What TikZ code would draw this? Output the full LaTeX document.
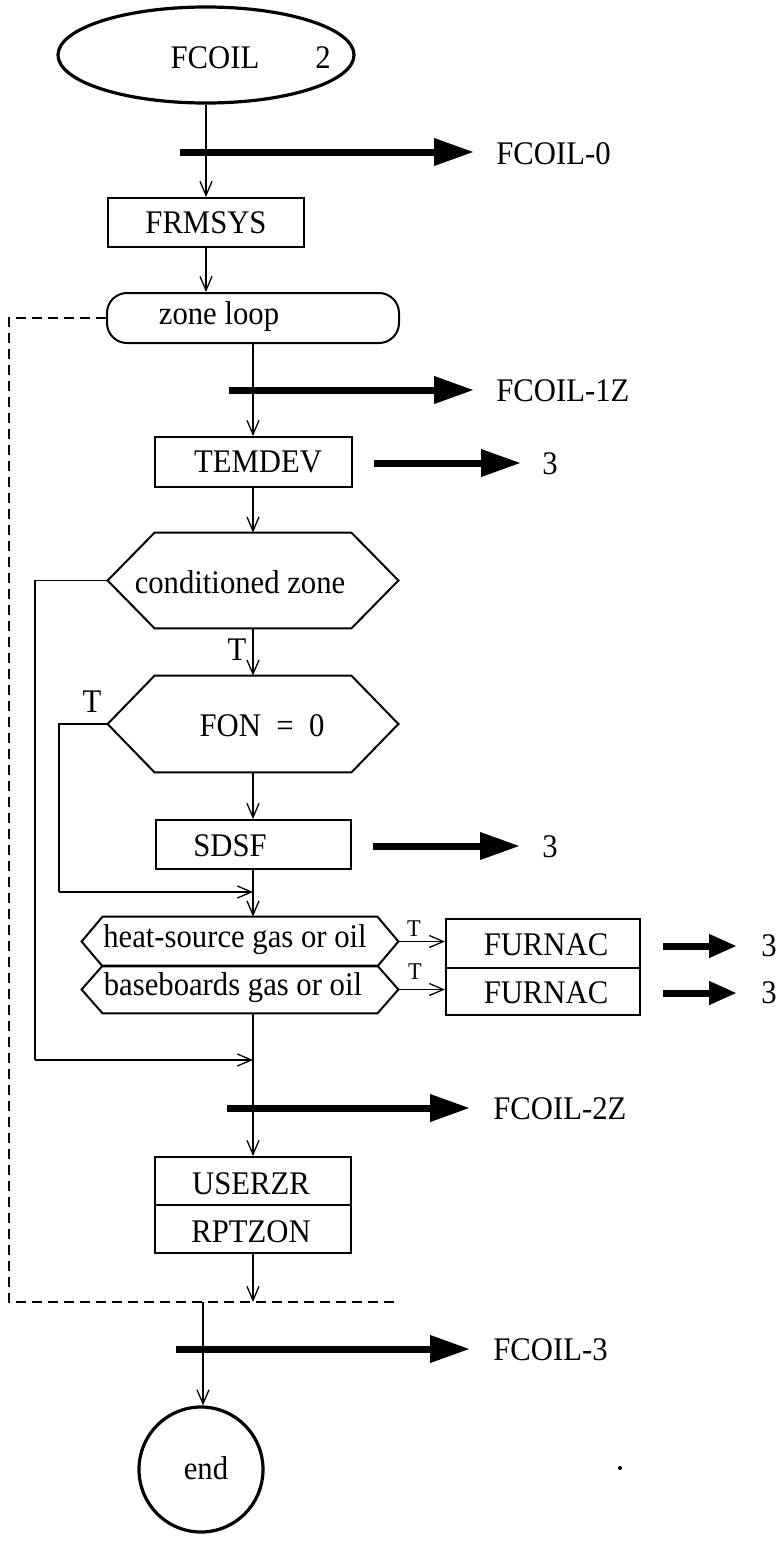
\documentclass[tikz,border=0pt]{standalone}
\usepackage{fontspec}
\setmainfont{Liberation Serif}[FakeStretch=0.93]
\usetikzlibrary{arrows.meta,shapes.geometric,calc}
\newcommand\drawhex[2]{\draw[line width=1pt] (#1.west) -- ([xshift=#2]#1.north west) -- ([xshift=-#2]#1.north east) -- (#1.east) -- ([xshift=-#2]#1.south east) -- ([xshift=#2]#1.south west) -- cycle;}
\begin{document}
\begin{tikzpicture}[x=0.5pt,y=-0.5pt,
  every node/.style={font=\fontsize{16.5}{19}\selectfont, inner sep=0pt},
  box/.style={draw, line width=1pt, inner sep=0pt},
  hexnode/.style={inner sep=0pt},
  arr/.style={line width=0.65pt, -{Straight Barb[length=7pt,width=6pt]}},
  big/.style={line width=3.5pt, -{Triangle[length=20pt,width=13pt]}},
  bigsmall/.style={line width=3.5pt, -{Triangle[length=14pt,width=11pt]}},
  loopline/.style={line width=0.8pt, dash pattern=on 5pt off 3pt},
  lbl/.style={anchor=west},
  tl/.style={font=\fontsize{16.5}{19}\selectfont},
  tls/.style={font=\fontsize{12}{14}\selectfont}
]
\fill[white] (0,0) rectangle (783,1543);
\useasboundingbox (0,0) rectangle (783,1543);

% start
\node[draw, ellipse, line width=1.6pt, minimum width=148pt, minimum height=48pt] (start) at (206,55) {};
\node (st1) at (215,58) {FCOIL};
\node (st2) at (323,58) {2};

% FRMSYS
\node[box, minimum width=98pt, minimum height=24.5pt] (frm) at (206,222.5) {FRMSYS};

% zone loop
\node[draw, rounded corners=10pt, line width=1pt, minimum width=146pt, minimum height=25pt] (zone) at (253,318) {};
\node (zt) at (219,317) {zone loop};

% TEMDEV
\node[box, minimum width=98.5pt, minimum height=25pt] (tem) at (253,462) {};
\node (temt) at (258,462) {TEMDEV};

% conditioned zone
\node[hexnode, minimum width=145pt, minimum height=47.5pt] (cz) at (253,580.5) {};
\drawhex{cz}{23.5pt}
\node (czt) at (240,582) {conditioned zone};

% FON = 0
\node[hexnode, minimum width=145pt, minimum height=48pt] (fon) at (253,724) {};
\drawhex{fon}{23.5pt}
\node (font) at (262,726) {FON~~=~~0};

% SDSF
\node[box, minimum width=97.5pt, minimum height=24.5pt] (sdsf) at (253,844.5) {};
\node (sdsft) at (230,846) {SDSF};

% heat-source / baseboards
\node[hexnode, minimum width=158pt, minimum height=24.5pt] (hs) at (240,941.5) {};
\drawhex{hs}{10.5pt}
\node (hst) at (235,940) {heat-source gas or oil};
\node[hexnode, minimum width=158pt, minimum height=23.5pt] (bb) at (240,989.5) {};
\drawhex{bb}{10.5pt}
\node (bbt) at (233,988) {baseboards gas or oil};

% FURNAC
\node[box, minimum width=97pt, minimum height=24.5pt] (f1) at (543,943.5) {};
\node (f1t) at (546,945) {FURNAC};
\node[box, minimum width=97pt, minimum height=23.5pt] (f2) at (543,991.5) {};
\node (f2t) at (546,993) {FURNAC};

% USERZR / RPTZON
\node[box, minimum width=98pt, minimum height=24pt] (usr) at (253,1181) {};
\node (usrt) at (251,1184) {USERZR};
\node[box, minimum width=98pt, minimum height=24pt] (rpt) at (253,1229) {};
\node (rptt) at (251,1232) {RPTZON};

% end
\node[draw, ellipse, line width=1.6pt, minimum width=62pt, minimum height=62.5pt] (end) at (201,1469.5) {};
\node (endt) at (206,1468) {end};

% coordinates
\coordinate (j1) at (59,892);
\coordinate (j2) at (35,1060);
\coordinate (dcorner) at (9,1302);
\coordinate (loopend) at (397,1302);
\coordinate (exit) at (203,1302);

% thin connectors
\draw[arr] (start.south) -- (frm.north);
\draw[arr] (frm.south) -- (frm.south |- zone.north);
\draw[arr] (zone.south) -- (tem.north);
\draw[arr] (tem.south) -- (cz.north);
\draw[arr] (cz.south) -- (fon.north);
\node[tl] (tcz) at (237,650) {T};
\draw[arr] (fon.south) -- (sdsf.north);
\draw[arr] (sdsf.south) -- (sdsf.south |- hs.north);
\draw[line width=0.65pt] (fon.west) -| (j1);
\draw[arr] (j1) -- (j1 -| sdsf.south);
\node[tl] (tfon) at (92,702) {T};
\draw[line width=0.65pt] (cz.west) -| (j2);
\draw[arr] (j2) -- (j2 -| usr.north);
\draw[line width=0.65pt] (usr.north |- bb.south) -- (j2 -| usr.north);
\draw[arr] (j2 -| usr.north) -- (usr.north);
\draw[arr] (hs.east) -- (hs.east -| f1.west);
\node[tls] (th) at (414,929) {T};
\draw[arr] (bb.east) -- (bb.east -| f2.west);
\node[tls] (tb) at (415,972) {T};
\draw[arr] (rpt.south) -- (rpt.south |- loopend);
\draw[arr] (exit) -- (exit |- end.north);

% loop dashed line
\draw[loopline] (zone.west) -| (dcorner) -- (loopend);

% thick arrows and labels
\node[lbl] (o0) at (496,154) {FCOIL-0};
\coordinate (b0) at (180,152);
\draw[big] (b0) -- (b0 -| 474,0);
\node[lbl] (o1) at (496,391) {FCOIL-1Z};
\coordinate (b1) at (229,390);
\draw[big] (b1) -- (b1 -| 474,0);
\node (o2) at (550,464) {3};
\coordinate (b2) at (374,463);
\draw[big] (b2) -- (b2 -| 521,0);
\node (o3) at (550,847) {3};
\coordinate (b3) at (373,846);
\draw[big] (b3) -- (b3 -| 520,0);
\node (o4) at (769,946) {3};
\coordinate (b4) at (663,946);
\draw[bigsmall] (b4) -- (b4 -| 737,0);
\node (o5) at (769,993) {3};
\coordinate (b5) at (663,993);
\draw[bigsmall] (b5) -- (b5 -| 737,0);
\node[lbl] (o6) at (493,1109) {FCOIL-2Z};
\coordinate (b6) at (227,1108);
\draw[big] (b6) -- (b6 -| 470,0);
\node[lbl] (o7) at (493,1350) {FCOIL-3};
\coordinate (b7) at (176,1349);
\draw[big] (b7) -- (b7 -| 470,0);

% speck
\fill (620,1468) circle (1pt);
\end{tikzpicture}
\end{document}
